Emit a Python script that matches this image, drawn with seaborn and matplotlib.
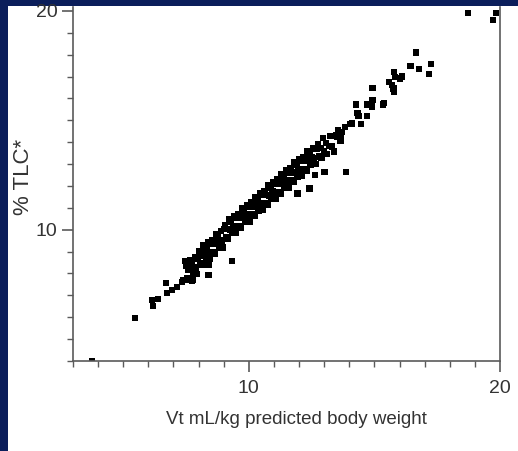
import numpy as np
import pandas as pd
import matplotlib
matplotlib.use("Agg")
import matplotlib.pyplot as plt
from matplotlib.patches import Rectangle
from matplotlib.ticker import MultipleLocator
import seaborn as sns

# ---- data ----
# sparse low end
low_vt = [3.76, 5.47, 6.15, 6.19, 6.39, 6.71, 6.75, 6.94, 7.14, 7.34, 7.38, 7.46, 7.74,
          7.79, 8.39, 8.39, 9.32, 8.33]
low_tlc = [4.00, 5.96, 6.79, 6.51, 6.83, 7.56, 7.11, 7.24, 7.38, 7.61, 7.70, 8.57, 7.65,
           7.70, 7.93, 8.38, 8.58, 9.25]

# dense band
band_vt = [7.50, 7.54, 7.58, 7.62, 7.66, 7.70, 7.74, 7.78, 7.82, 7.86, 7.90, 7.94, 7.98,
           8.02, 8.06, 8.10, 8.14, 8.18, 8.22, 8.26, 8.30, 8.34, 8.38, 8.42, 8.46, 8.50,
           8.54, 8.58, 8.62, 8.66, 8.70, 8.74, 8.78, 8.82, 8.86, 8.90, 8.94, 8.98, 9.02,
           9.06, 9.10, 9.14, 9.18, 9.22, 9.26, 9.30, 9.34, 9.38, 9.42, 9.46, 9.50, 9.54,
           9.58, 9.62, 9.66, 9.70, 9.74, 9.78, 9.82, 9.86, 9.90, 9.94, 9.98, 10.02, 10.06,
           10.10, 10.14, 10.18, 10.22, 10.26, 10.30, 10.34, 10.38, 10.42, 10.46, 10.50,
           10.54, 10.58, 10.62, 10.66, 10.70, 10.74, 10.78, 10.82, 10.86, 10.90, 10.94,
           10.98, 11.02, 11.06, 11.10, 11.14, 11.18, 11.22, 11.26, 11.30, 11.34, 11.38,
           11.42, 11.46, 11.50, 11.54, 11.58, 11.62, 11.66, 11.70, 11.74, 11.78, 11.82,
           11.86, 11.90, 11.94, 11.98, 12.02, 12.06, 12.10, 12.14, 12.18, 12.22, 12.26,
           12.30, 12.34, 12.38, 12.42, 12.46, 12.50, 12.55, 12.60, 12.65, 12.70, 12.75,
           12.80, 12.85, 12.90, 12.95, 13.00, 13.06, 13.12, 13.18, 13.24, 13.30, 13.38,
           13.46, 13.55, 13.65, 13.72]
band_tlc = [8.35, 7.80, 8.18, 7.73, 8.60, 8.15, 8.48, 7.98, 8.31, 8.74, 8.23, 7.98, 8.65,
            9.03, 8.48, 8.86, 8.40, 9.28, 8.82, 9.16, 8.65, 8.99, 9.43, 8.92, 8.66, 9.35,
            9.54, 8.98, 9.37, 8.91, 9.80, 9.34, 9.68, 9.17, 9.51, 9.95, 9.44, 9.18, 10.02,
            10.21, 9.65, 10.04, 9.58, 10.47, 10.01, 10.35, 9.84, 10.18, 10.62, 10.11, 9.85,
            10.54, 10.73, 10.17, 10.56, 10.10, 10.99, 10.53, 10.87, 10.36, 10.70, 11.14,
            10.63, 10.37, 11.06, 11.25, 10.69, 11.08, 10.62, 11.51, 11.05, 11.39, 10.88,
            11.22, 11.66, 11.15, 10.89, 11.58, 11.77, 11.21, 11.60, 11.14, 12.03, 11.57,
            11.91, 11.40, 11.74, 12.18, 11.67, 11.41, 12.10, 12.29, 11.73, 12.12, 11.66,
            12.55, 12.09, 12.43, 11.92, 12.26, 12.70, 12.19, 11.93, 12.62, 12.81, 12.25,
            12.64, 12.18, 13.07, 12.61, 12.95, 12.44, 12.78, 13.22, 12.71, 12.45, 13.14,
            13.33, 12.77, 13.16, 12.70, 13.59, 13.13, 13.47, 12.96, 13.30, 13.75, 13.25,
            13.00, 13.70, 13.90, 13.35, 13.75, 13.30, 14.20, 13.60, 13.96, 13.47, 13.83,
            14.29, 13.80, 13.58, 14.31, 14.55, 14.05, 14.47]

# sparse high end and outliers
high_vt = [11.94, 12.41, 12.64, 13.01, 13.88, 13.51, 13.68, 13.84, 14.04, 14.10, 14.46,
           14.33, 14.37, 14.70, 14.26, 14.70, 14.90, 14.92, 15.34, 15.39, 14.92, 15.59,
           15.70, 15.76, 15.79, 15.79, 15.83, 16.03, 16.10, 16.43, 16.65, 16.78, 17.18,
           17.25, 18.72, 19.71, 19.85]
high_tlc = [11.65, 11.88, 12.49, 12.64, 12.64, 14.24, 14.27, 14.70, 14.82, 14.85, 14.82,
            15.34, 15.19, 15.19, 15.73, 15.73, 15.64, 15.94, 15.73, 15.79, 16.49, 16.76,
            16.61, 16.46, 16.30, 17.21, 16.99, 16.91, 17.01, 17.48, 18.10, 17.36, 17.11,
            17.59, 19.90, 19.60, 19.90]

df = pd.DataFrame({
    "vt": low_vt + band_vt + high_vt,
    "tlc": low_tlc + band_tlc + high_tlc,
})

# ---- figure ----
sns.set_style("ticks")
plt.rcParams["font.family"] = ["Liberation Sans", "DejaVu Sans"]

W, H = 518, 451
fig = plt.figure(figsize=(W / 100, H / 100), dpi=100)
fig.patch.set_facecolor("#0b1e5b")

# white slide panel behind the chart
bg = fig.add_axes([8 / W, 0, 1 - 8 / W, (H - 6) / H], zorder=-5)
bg.set_facecolor("white")
bg.set_axis_off()
bg.add_patch(Rectangle((0, 0), 1, 1, transform=bg.transAxes, facecolor="white",
                       edgecolor="none"))

left, right = 73 / W, 500 / W
bottom, top = 1 - 361 / H, 1 - 6.6 / H
ax = fig.add_axes([left, bottom, right - left, top - bottom], zorder=1)
ax.set_facecolor("none")

sns.scatterplot(data=df, x="vt", y="tlc", ax=ax, marker="s", s=21,
                color="black", edgecolor="none", linewidth=0, legend=False)

ax.set_xlim(3, 20)
ax.set_ylim(4, 20.2)
ax.xaxis.set_major_locator(MultipleLocator(10))
ax.xaxis.set_minor_locator(MultipleLocator(1))
ax.yaxis.set_major_locator(MultipleLocator(10))
ax.yaxis.set_minor_locator(MultipleLocator(1))

spine_col = "#5a5a5a"
for s in ["left", "bottom", "right"]:
    ax.spines[s].set_color(spine_col)
    ax.spines[s].set_linewidth(1.2)
ax.spines["top"].set_visible(False)

ax.tick_params(axis="both", which="major", length=8, width=1.2, color=spine_col,
               labelsize=14, labelcolor="#333333")
ax.tick_params(axis="both", which="minor", length=4.5, width=1.0, color=spine_col)
ax.tick_params(axis="x", which="major", pad=6)
ax.tick_params(axis="y", which="major", pad=3)
ax.tick_params(axis="y", which="both", right=False)

ax.set_xlabel("Vt mL/kg predicted body weight", fontsize=13.5, color="#333333")
ax.set_ylabel("% TLC*", fontsize=16, color="#333333")
ax.xaxis.set_label_coords((296.5 - 73) / 427, (361 - 411) / 354)
ax.yaxis.set_label_coords((34 - 73) / 427, (361 - 177) / 354)

fig.savefig("out.png", dpi=100, facecolor=fig.get_facecolor())
